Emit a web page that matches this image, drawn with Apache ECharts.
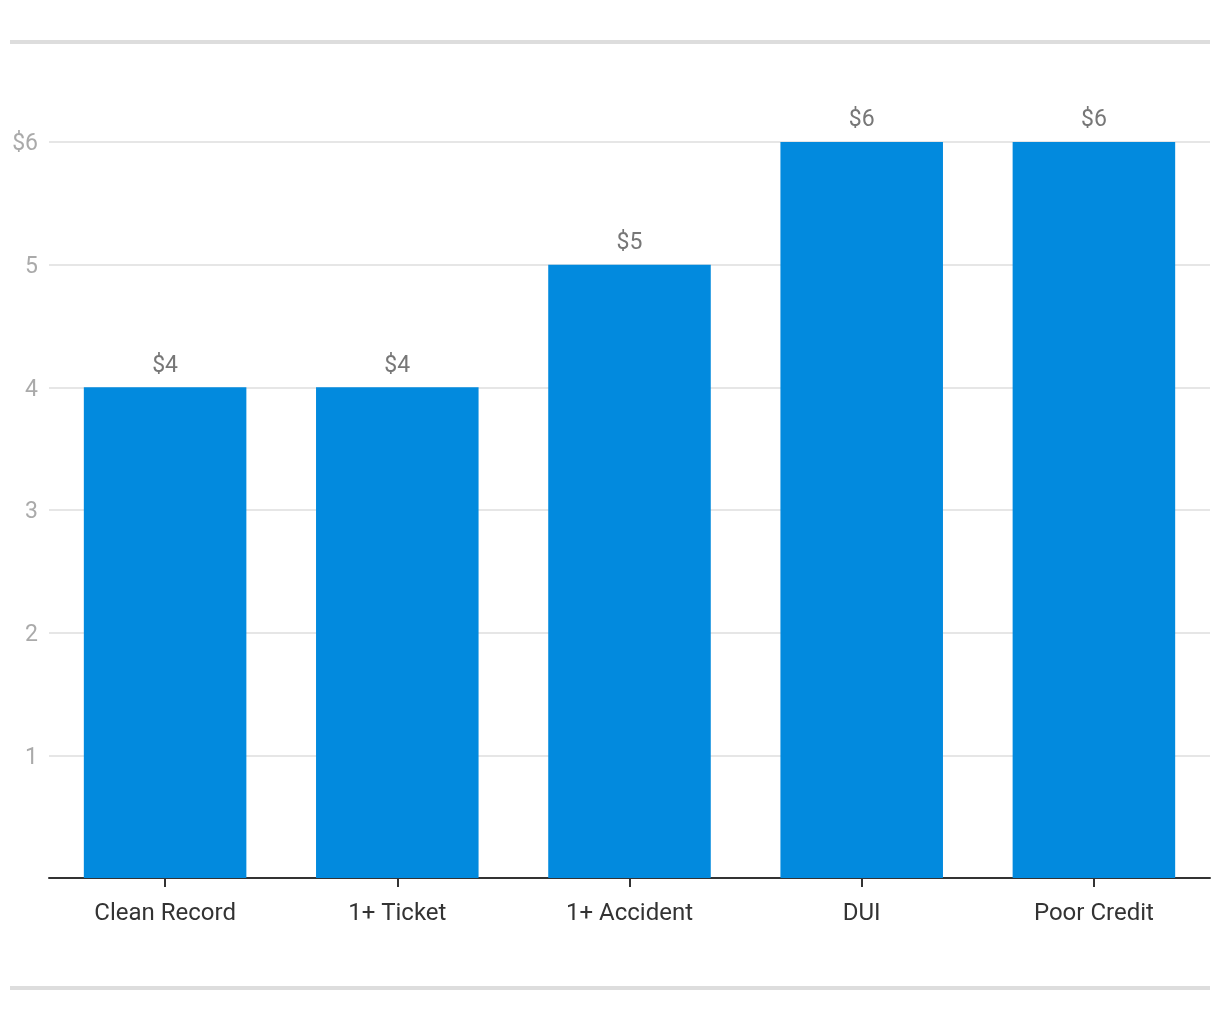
<!DOCTYPE html>
<html>
<head>
<meta charset="utf-8">
<script src="https://cdn.jsdelivr.net/npm/echarts@6/dist/echarts.min.js"></script>
<style>
html,body{margin:0;padding:0;background:#fff;}
#chart{width:1220px;height:1020px;}
</style>
</head>
<body>
<div id="chart"></div>
<script>
const categories = ['Clean Record', '1+ Ticket', '1+ Accident', 'DUI', 'Poor Credit'];
const values = [4, 4, 5, 6, 6];
const yMin = 0, yMax = 6, yInterval = 1;

const chart = echarts.init(document.getElementById('chart'), null, {renderer: 'canvas'});
const font = 'Roboto, "Noto Sans", sans-serif';
chart.setOption({
  animation: false,
  backgroundColor: '#fff',
  grid: {left: 49, right: 10, top: 142, bottom: 142, containLabel: false},
  graphic: [
    {type: 'rect', shape: {x: 10, y: 40, width: 1200, height: 4}, style: {fill: '#dddddd'}, silent: true},
    {type: 'rect', shape: {x: 10, y: 986, width: 1200, height: 4}, style: {fill: '#dddddd'}, silent: true}
  ],
  xAxis: {
    type: 'category',
    data: categories,
    axisLine: {show: true, lineStyle: {color: '#333333', width: 2}},
    axisTick: {show: true, alignWithLabel: true, length: 9, lineStyle: {color: '#333333', width: 2}},
    axisLabel: {color: '#333333', fontSize: 24, fontFamily: font, margin: 24}
  },
  yAxis: {
    type: 'value',
    min: yMin, max: yMax, interval: yInterval,
    axisLine: {show: false},
    axisTick: {show: false},
    splitLine: {show: true, lineStyle: {color: '#e6e6e6', width: 2}},
    axisLabel: {
      color: '#aaaaaa', fontSize: 23, fontFamily: font, margin: 11,
      formatter: function (v) {
        if (v === 0) return '';
        return '{a|' + (v === yMax ? '$' + v : String(v)) + '}';
      },
      rich: {a: {color: '#aaaaaa', fontSize: 23, fontFamily: font, padding: [5, 0, 0, 0]}}
    }
  },
  series: [{
    type: 'bar',
    data: values,
    barCategoryGap: '30%',
    itemStyle: {color: '#028ade'},
    label: {
      show: true, position: 'top', distance: 10,
      color: '#777777', fontSize: 23, fontFamily: font,
      formatter: function (p) { return '$' + p.value; }
    }
  }]
});
</script>
</body>
</html>
